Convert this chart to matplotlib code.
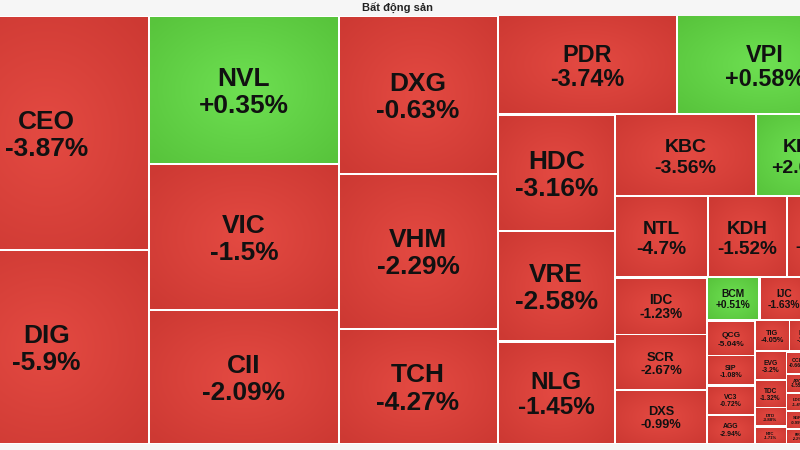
import numpy as np
import matplotlib
matplotlib.use("Agg")
from matplotlib import pyplot as plt
from matplotlib.patches import Rectangle

# Ma chung khoan (theo thu tu giam dan ty trong)
ma_ck = ['CEO', 'DIG', 'NVL', 'VIC', 'CII', 'DXG', 'VHM', 'TCH', 'PDR', 'VPI',
         'HDC', 'VRE', 'NLG', 'KBC', 'KHG', 'NTL', 'KDH', 'SZC', 'IDC', 'SCR',
         'DXS', 'BCM', 'IJC', 'HQC', 'QCG', 'SIP', 'VC3', 'AGG', 'TIG', 'LHG',
         'ITC', 'EVG', 'TDC', 'DTD', 'NTC', 'CCL', 'HDG', 'CKG', 'APG', 'NBB',
         'DRH', 'LDG', 'SGR', 'FIR', 'D2D', 'PTL', 'HAR', 'CRE', 'TIX', 'NDN',
         'HPX', 'SJS', 'VPH', 'HTN']

# Ty trong (gia tri giao dich, don vi tuong doi)
ty_trong = [47650, 39470, 27880, 27500, 25140, 24890, 24490, 18150, 17540, 17250,
            13570, 12870, 11930, 11490, 7910, 7440, 6360, 5300, 5260, 5080,
            4900, 2230, 2125, 1870, 1670, 1410, 1380, 1370, 1068, 1037,
            930, 899, 868, 589, 543, 494, 490, 489, 430, 420,
            417, 400, 390, 330, 300, 280, 260, 250, 240, 220,
            200, 190, 170, 160]

# Thay doi gia (%)
thay_doi = [-3.87, -5.9, 0.35, -1.5, -2.09, -0.63, -2.29, -4.27, -3.74, 0.58,
            -3.16, -2.58, -1.45, -3.56, 2.04, -4.7, -1.52, -1.85, -1.23, -2.67,
            -0.99, 0.51, -1.63, -1.17, -5.04, -1.08, -0.72, -2.94, -4.05, -1.2,
            -2.1, -3.2, -1.32, -3.88, -1.71, -0.66, -2.4, -1.1, -1.55, -0.8,
            -3.1, -1.4, -0.99, -2.2, -1.9, -0.5, -2.6, -1.3, -0.9, -1.6,
            -2.3, -0.4, -1.8, -1.0]

NADIR = '#F6F6F6'
CERVENA = (np.array([228, 74, 66]) / 255, np.array([205, 57, 51]) / 255)
ZELENA = (np.array([110, 224, 82]) / 255, np.array([88, 196, 60]) / 255)


# Najhorsi pomer stran bunky v riadku (cielovy pomer sirka/vyska = pomer)
def najhorsi(riadok, dlzka, stlpec, pomer):
    t = sum(riadok) / dlzka
    vysledok = 0
    for v in riadok:
        l = v / t
        sirka, vyska = (t, l) if stlpec else (l, t)
        a = sirka / (vyska * pomer)
        vysledok = max(vysledok, a, 1 / a)
    return vysledok


# Squarify rozlozenie
def squarify(hodnoty, x, y, w, h, pomer=1.3):
    celkom = sum(hodnoty)
    hodnoty = [v * w * h / celkom for v in hodnoty]
    obdlzniky = []
    i = 0
    while i < len(hodnoty):
        stlpec = w >= h
        dlzka = h if stlpec else w
        riadok = [hodnoty[i]]
        j = i + 1
        skore = najhorsi(riadok, dlzka, stlpec, pomer)
        while j < len(hodnoty):
            nove = najhorsi(riadok + [hodnoty[j]], dlzka, stlpec, pomer)
            if nove > skore:
                break
            riadok.append(hodnoty[j])
            skore = nove
            j += 1
        t = sum(riadok) / dlzka
        poz = y if stlpec else x
        for v in riadok:
            l = v / t
            if stlpec:
                obdlzniky.append((x, poz, t, l))
            else:
                obdlzniky.append((poz, y, l, t))
            poz += l
        if stlpec:
            x += t
            w -= t
        else:
            y += t
            h -= t
        i = j
    return obdlzniky


def gradient(farby, n=24):
    yy, xx = np.mgrid[-1:1:n * 1j, -1:1:n * 1j]
    r = np.clip(np.sqrt(xx ** 2 + yy ** 2) / 1.41, 0, 1)[..., None]
    return farby[0] * (1 - r) + farby[1] * r


fig = plt.figure(figsize=(8, 4.5), dpi=100, facecolor=NADIR)
ax = fig.add_axes([0, 0, 1, 1])
ax.set_facecolor(NADIR)
ax.axis('off')

# Oblast treemapy (v pixeloch, cast presahuje okraj obrazka)
X0, Y0, W, H = -56, 16, 909, 428
ax.add_patch(Rectangle((X0, Y0), W, H, facecolor='white', edgecolor='none'))

medzera = 1.25
for (x, y, w, h), ma, zmena in zip(squarify(ty_trong, X0, Y0, W, H), ma_ck, thay_doi):
    farby = ZELENA if zmena > 0 else CERVENA
    ax.imshow(gradient(farby), extent=(x + medzera, x + w - medzera, y + h - medzera, y + medzera),
              aspect='auto', interpolation='bilinear', zorder=2)

    cap = min(0.17 * min(w, h), 18.8)
    velkost = cap / 0.716 * 72 / 100
    cx, cy = x + w / 2, y + h / 2
    ax.text(cx, cy - 0.225 * cap, ma, ha='center', va='baseline', fontsize=velkost,
            fontweight='bold', family='Liberation Sans', color='#111111', zorder=3)
    ax.text(cx, cy + 1.225 * cap, f"{zmena:+g}%", ha='center', va='baseline', fontsize=velkost,
            fontweight='bold', family='Liberation Sans', color='#111111', zorder=3)

ax.text(398, 8.5, 'Bất động sản', ha='center', va='center', fontsize=8,
        fontweight='bold', family='Liberation Sans', color='#222222')

ax.set_xlim(0, 800)
ax.set_ylim(450, 0)

fig.savefig('out.png', dpi=100, facecolor=NADIR)
